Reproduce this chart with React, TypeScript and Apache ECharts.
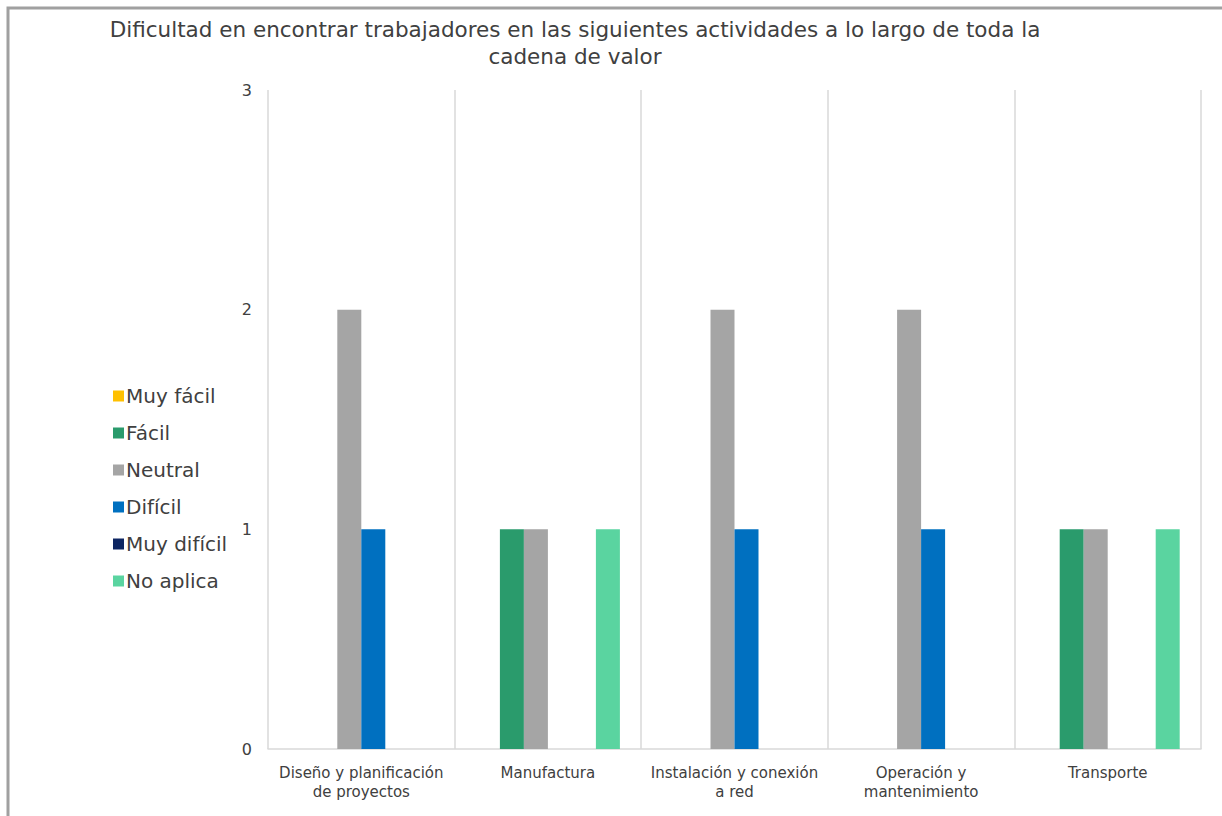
import React, { useEffect, useRef } from "react";
import * as echarts from "echarts";

const categories = [
  "Diseño y planificación\nde proyectos",
  "Manufactura",
  "Instalación y conexión\na red",
  "Operación y\nmantenimiento",
  "Transporte",
];
const seriesNames = ["Muy fácil", "Fácil", "Neutral", "Difícil", "Muy difícil", "No aplica"];
const muyFacil = [0, 0, 0, 0, 0];
const facil = [0, 1, 0, 0, 1];
const neutral = [2, 1, 2, 2, 1];
const dificil = [1, 0, 1, 1, 0];
const muyDificil = [0, 0, 0, 0, 0];
const noAplica = [0, 1, 0, 0, 1];
const colors = ["#FFC000", "#2A9B6C", "#A5A5A5", "#0070C0", "#0D2562", "#5AD4A0"];
const titleText =
  "Dificultad en encontrar trabajadores en las siguientes actividades a lo largo de toda la\ncadena de valor";

const FONT = "'DejaVu Sans', sans-serif";

export default function App() {
  const ref = useRef<HTMLDivElement>(null);
  useEffect(() => {
    document.body.style.margin = "0";
    const chart = echarts.init(ref.current!, null, { renderer: "svg" });
    const values = [muyFacil, facil, neutral, dificil, muyDificil, noAplica];
    chart.setOption({
      animation: false,
      backgroundColor: "#ffffff",
      textStyle: { fontFamily: FONT },
      graphic: [
        {
          type: "rect",
          shape: { x: 8, y: 8, width: 1300, height: 900 },
          style: { fill: "none", stroke: "#A0A0A0", lineWidth: 3 },
          z: 100,
          silent: true,
        },
        {
          type: "text",
          x: 575,
          y: 16,
          style: {
            text: titleText,
            fontFamily: FONT,
            fontSize: 21.5,
            lineHeight: 27,
            fill: "#404040",
            align: "center",
            verticalAlign: "top",
          },
        },
      ],
      legend: {
        orient: "vertical",
        left: 108,
        top: 380,
        icon: "rect",
        itemWidth: 11,
        itemHeight: 11,
        itemGap: 15,
        data: seriesNames,
        textStyle: { fontSize: 20, lineHeight: 22, color: "#404040", fontFamily: FONT, padding: [0, 0, 0, -3] },
      },
      grid: { left: 268, right: 21, top: 90, bottom: 67, containLabel: false },
      xAxis: {
        type: "category",
        data: categories,
        boundaryGap: true,
        axisLine: { show: true, lineStyle: { color: "#D9D9D9", width: 1.5 } },
        axisTick: { show: false },
        splitLine: { show: true, lineStyle: { color: "#D9D9D9", width: 1.5 } },
        axisLabel: {
          interval: 0,
          fontSize: 15,
          lineHeight: 19,
          color: "#404040",
          margin: 14,
          fontFamily: FONT,
        },
      },
      yAxis: {
        type: "value",
        min: 0,
        max: 3,
        interval: 1,
        axisLine: { show: false },
        axisTick: { show: false },
        splitLine: { show: false },
        axisLabel: { fontSize: 16, color: "#404040", margin: 16, fontFamily: FONT },
      },
      series: seriesNames.map((name, i) => ({
        name,
        type: "bar",
        data: values[i],
        barWidth: 24,
        barGap: "0%",
        itemStyle: { color: colors[i] },
      })),
    });
    return () => chart.dispose();
  }, []);
  return <div ref={ref} style={{ width: 1222, height: 816 }} />;
}
